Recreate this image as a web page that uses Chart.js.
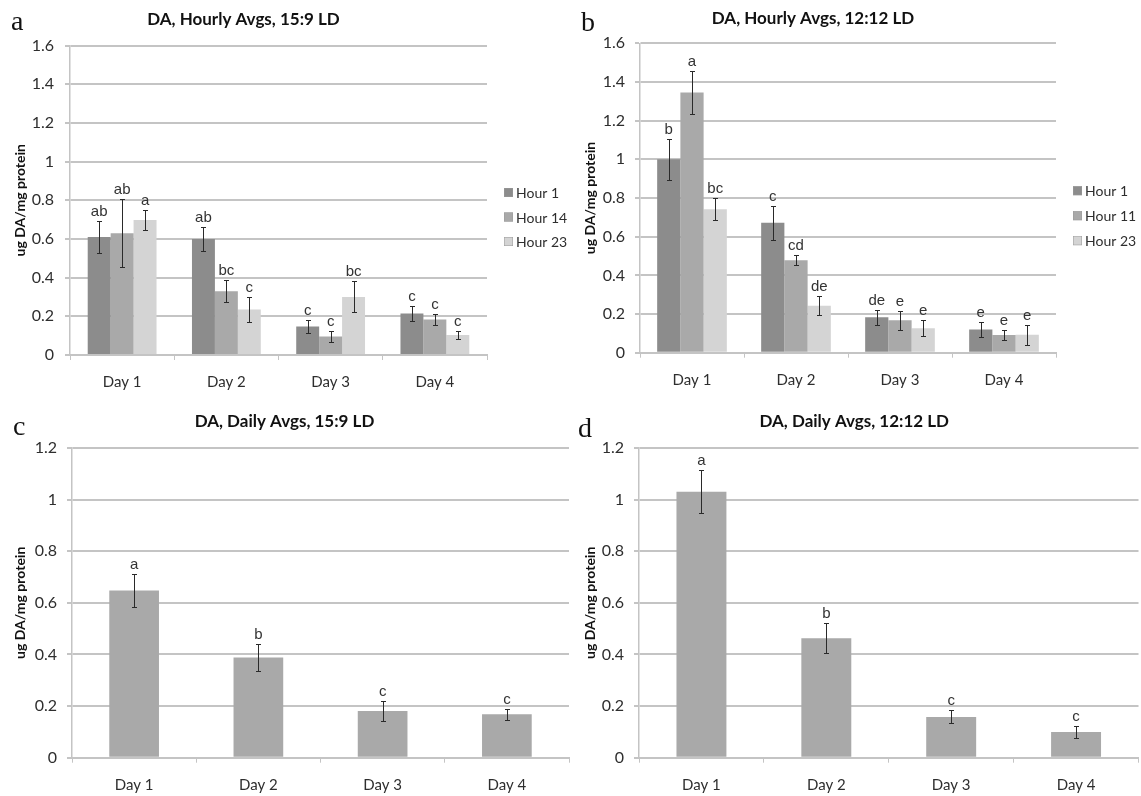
<!DOCTYPE html>
<html>
<head>
<meta charset="utf-8">
<script src="https://cdn.jsdelivr.net/npm/chart.js@4.4.1/dist/chart.umd.min.js"></script>
<style>
  html, body { margin: 0; padding: 0; background: #ffffff; }
  body { width: 1141px; height: 796px; position: relative; overflow: hidden; }
  canvas { position: absolute; }
</style>
</head>
<body>
<canvas id="panelA" width="570" height="395" style="left:0px;top:0px"></canvas>
<canvas id="panelB" width="571" height="395" style="left:570px;top:0px"></canvas>
<canvas id="panelC" width="570" height="406" style="left:0px;top:390px"></canvas>
<canvas id="panelD" width="571" height="406" style="left:570px;top:390px"></canvas>
<script>
// ---------------- DATA ----------------
const days = ['Day 1', 'Day 2', 'Day 3', 'Day 4'];

// Panel a: DA, Hourly Avgs, 15:9 LD
const aHour1      = [0.610, 0.600, 0.147, 0.215];
const aHour1Err   = [0.085, 0.060, 0.035, 0.037];
const aHour1Sig   = ['ab', 'ab', 'c', 'c'];
const aHour14     = [0.630, 0.330, 0.095, 0.183];
const aHour14Err  = [0.175, 0.056, 0.028, 0.028];
const aHour14Sig  = ['ab', 'bc', 'c', 'c'];
const aHour23     = [0.698, 0.235, 0.300, 0.104];
const aHour23Err  = [0.053, 0.065, 0.080, 0.020];
const aHour23Sig  = ['a', 'c', 'bc', 'c'];

// Panel b: DA, Hourly Avgs, 12:12 LD
const bHour1      = [1.000, 0.672, 0.183, 0.120];
const bHour1Err   = [0.105, 0.088, 0.040, 0.040];
const bHour1Sig   = ['b', 'c', 'de', 'e'];
const bHour11     = [1.345, 0.478, 0.168, 0.092];
const bHour11Err  = [0.112, 0.025, 0.050, 0.027];
const bHour11Sig  = ['a', 'cd', 'e', 'e'];
const bHour23     = [0.742, 0.243, 0.127, 0.093];
const bHour23Err  = [0.058, 0.048, 0.042, 0.052];
const bHour23Sig  = ['bc', 'de', 'e', 'e'];

// Panel c: DA, Daily Avgs, 15:9 LD
const cDaily      = [0.648, 0.388, 0.181, 0.168];
const cDailyErr   = [0.065, 0.053, 0.038, 0.022];
const cDailySig   = ['a', 'b', 'c', 'c'];

// Panel d: DA, Daily Avgs, 12:12 LD
const dDaily      = [1.030, 0.463, 0.158, 0.100];
const dDailyErr   = [0.083, 0.058, 0.025, 0.024];
const dDailySig   = ['a', 'b', 'c', 'c'];

const yMaxHourly = 1.6;
const yMaxDaily = 1.2;
const yStep = 0.2;

// ---------------- STYLE ----------------
const C_H1 = '#8c8c8c', C_H2 = '#a9a9a9', C_H3 = '#d4d4d4', C_DAY = '#a9a9a9';
const GRID = '#c4c4c4';
const TXT = '#2e2e2e';
const SANS = 'Lato, "Open Sans", sans-serif';
const TITLE_SIZE = 17;

// draws error bars, significance letters, panel letter and legend
const decorPlugin = {
  id: 'decor',
  afterDatasetsDraw(chart) {
    const ctx = chart.ctx;
    const ys = chart.scales.y;
    chart.data.datasets.forEach((ds, di) => {
      const meta = chart.getDatasetMeta(di);
      meta.data.forEach((bar, i) => {
        const v = ds.data[i], e = ds.errors[i];
        const yt = Math.round(ys.getPixelForValue(v + e)) + 0.5;
        const yb = Math.round(ys.getPixelForValue(v - e)) + 0.5;
        const x = Math.round(bar.x) + 0.5;
        ctx.save();
        ctx.strokeStyle = '#2a2a2a';
        ctx.lineWidth = 1;
        ctx.beginPath();
        ctx.moveTo(x, yt); ctx.lineTo(x, yb);
        ctx.moveTo(x - 2.5, yt); ctx.lineTo(x + 2.5, yt);
        ctx.moveTo(x - 2.5, yb); ctx.lineTo(x + 2.5, yb);
        ctx.stroke();
        ctx.fillStyle = '#333333';
        ctx.font = '15px "Liberation Sans", Arial, sans-serif';
        ctx.textAlign = 'center';
        ctx.textBaseline = 'alphabetic';
        ctx.fillText(ds.sig[i], bar.x, yt - 6);
        ctx.restore();
      });
    });
  },
  afterDraw(chart) {
    const o = chart.options.plugins.decor;
    const ctx = chart.ctx;
    ctx.save();
    ctx.fillStyle = '#111111';
    ctx.font = '28px "Liberation Serif", "DejaVu Serif", serif';
    ctx.textAlign = 'left';
    ctx.textBaseline = 'alphabetic';
    ctx.fillText(o.letter, o.letterX, o.letterY);
    if (o.legend) {
      ctx.font = '14px ' + SANS;
      ctx.textBaseline = 'middle';
      chart.data.datasets.forEach((ds, i) => {
        const yc = o.legendY + i * o.legendStep;
        ctx.fillStyle = ds.backgroundColor;
        ctx.fillRect(o.legendX, yc - 4.5, 9, 9);
        ctx.strokeStyle = '#9a9a9a';
        ctx.lineWidth = 0.5;
        ctx.strokeRect(o.legendX + 0.25, yc - 4.25, 8.5, 8.5);
        ctx.fillStyle = TXT;
        ctx.fillText(ds.label, o.legendX + 12, yc + 1);
      });
    }
    ctx.restore();
  }
};

function makeChart(id, g, datasets, yMax, title, decor) {
  const canvas = document.getElementById(id);
  const W = canvas.width, H = canvas.height;
  const lh = TITLE_SIZE * 1.2;
  const tTop = g.titleY - lh / 2;
  return new Chart(canvas, {
    type: 'bar',
    data: { labels: days, datasets: datasets },
    plugins: [decorPlugin],
    options: {
      responsive: false,
      animation: false,
      events: [],
      layout: { padding: { left: 0, top: 0, right: W - g.R, bottom: 0 } },
      datasets: { bar: { categoryPercentage: g.cat, barPercentage: g.barP, borderWidth: 0 } },
      plugins: {
        legend: { display: false },
        tooltip: { enabled: false },
        title: {
          display: true, text: title, color: '#111111',
          font: { family: SANS, size: TITLE_SIZE, weight: 'bold' },
          padding: { top: tTop, bottom: g.T - tTop - lh }
        },
        decor: decor
      },
      scales: {
        x: {
          grid: { display: true, drawOnChartArea: false, drawTicks: true, tickLength: 5, color: GRID, lineWidth: 1, offset: true },
          border: { display: true, color: GRID, width: 2 },
          ticks: { color: TXT, padding: 13, maxRotation: 0, font: { family: SANS, size: 15 } },
          afterFit(s) { s.height = H - g.B; }
        },
        y: {
          min: 0, max: yMax,
          ticks: { stepSize: yStep, color: TXT, padding: g.yPad,
                   font: { family: SANS, size: 16 },
                   callback: (v) => String(parseFloat(Number(v).toFixed(1))) },
          grid: { color: GRID, lineWidth: 2, drawTicks: true, tickLength: 5 },
          border: { display: true, color: GRID, width: 1.5 },
          title: { display: true, text: 'ug DA/mg protein', color: '#111111',
                   font: { family: SANS, size: 14, weight: 'bold' },
                   padding: { top: 12, bottom: 0 } },
          afterFit(s) { s.width = g.L; }
        }
      }
    }
  });
}

function ds(label, data, errors, sig, color) {
  return { label: label, data: data, errors: errors, sig: sig, backgroundColor: color };
}

makeChart('panelA', { L: 70, R: 487, T: 45.5, B: 355, titleY: 20, cat: 0.66, barP: 1.0, yPad: 11 },
  [ds('Hour 1', aHour1, aHour1Err, aHour1Sig, C_H1),
   ds('Hour 14', aHour14, aHour14Err, aHour14Sig, C_H2),
   ds('Hour 23', aHour23, aHour23Err, aHour23Sig, C_H3)],
  yMaxHourly, 'DA, Hourly Avgs, 15:9 LD',
  { letter: 'a', letterX: 11, letterY: 30, legend: true, legendX: 504, legendY: 192.5, legendStep: 24.5 });

makeChart('panelB', { L: 70, R: 486, T: 43.3, B: 352.7, titleY: 18.5, cat: 0.67, barP: 1.0, yPad: 10 },
  [ds('Hour 1', bHour1, bHour1Err, bHour1Sig, C_H1),
   ds('Hour 11', bHour11, bHour11Err, bHour11Sig, C_H2),
   ds('Hour 23', bHour23, bHour23Err, bHour23Sig, C_H3)],
  yMaxHourly, 'DA, Hourly Avgs, 12:12 LD',
  { letter: 'b', letterX: 11, letterY: 31, legend: true, legendX: 503, legendY: 190.7, legendStep: 25 });

makeChart('panelC', { L: 72, R: 569, T: 58, B: 367.7, titleY: 32, cat: 0.4, barP: 1.0, yPad: 10 },
  [ds('Daily', cDaily, cDailyErr, cDailySig, C_DAY)],
  yMaxDaily, 'DA, Daily Avgs, 15:9 LD',
  { letter: 'c', letterX: 13, letterY: 45, legend: false });

makeChart('panelD', { L: 69, R: 568.5, T: 58, B: 367.7, titleY: 32, cat: 0.4, barP: 1.0, yPad: 10 },
  [ds('Daily', dDaily, dDailyErr, dDailySig, C_DAY)],
  yMaxDaily, 'DA, Daily Avgs, 12:12 LD',
  { letter: 'd', letterX: 8, letterY: 47, legend: false });
</script>
</body>
</html>
